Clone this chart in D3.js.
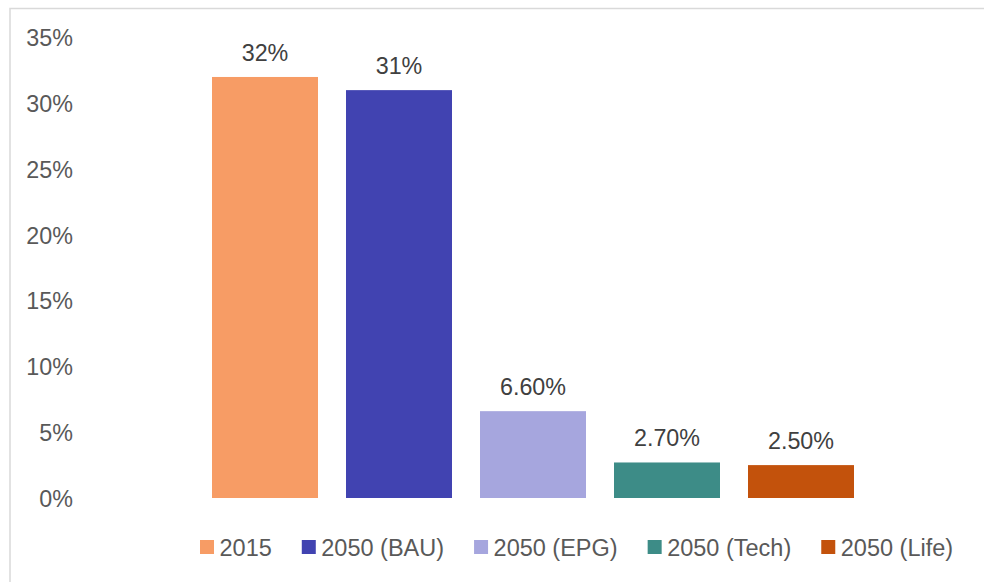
<!DOCTYPE html>
<html>
<head>
<meta charset="utf-8">
<script src="https://cdn.jsdelivr.net/npm/d3@7"></script>
<style>
  body { margin: 0; background: #fff; }
  text { font-family: "Liberation Sans", Arial, sans-serif; }
</style>
</head>
<body>
<div id="chart"></div>
<script>
const categories = ['2015', '2050 (BAU)', '2050 (EPG)', '2050 (Tech)', '2050 (Life)'];
const values = [32, 31, 6.6, 2.7, 2.5];
const valueLabels = ['32%', '31%', '6.60%', '2.70%', '2.50%'];
const yTicks = [0, 5, 10, 15, 20, 25, 30, 35];
const colors = ['#f79c65', '#4143b1', '#a6a6de', '#3d8c87', '#c3520c'];

const width = 984;
const height = 582;
const fontSize = 23.3;

const svg = d3.select('#chart')
  .append('svg')
  .attr('width', width)
  .attr('height', height);

// chart frame, runs off the right and bottom edges
svg.append('rect')
  .attr('x', 10)
  .attr('y', 8.5)
  .attr('width', 1000)
  .attr('height', 600)
  .attr('fill', 'none')
  .attr('stroke', '#d9d9d9')
  .attr('stroke-width', 1.5);

const xScale = d3.scaleBand()
  .domain(categories)
  .range([198, 868])
  .paddingInner(0.209)
  .paddingOuter(0.1045);

const yScale = d3.scaleLinear()
  .domain([0, 35])
  .range([498, 37.5]);

const yAxis = d3.axisLeft(yScale)
  .tickValues(yTicks)
  .tickFormat((d) => `${d}%`)
  .tickSize(0)
  .tickPadding(0);

const yG = svg.append('g')
  .attr('transform', 'translate(73, 0)')
  .call(yAxis);
yG.select('.domain').remove();
yG.selectAll('text')
  .attr('fill', '#595959')
  .attr('font-size', fontSize)
  .attr('dy', '0.35em');

svg.append('g')
  .selectAll('rect')
  .data(values)
  .enter()
    .append('rect')
    .attr('x', (d, i) => xScale(categories[i]))
    .attr('y', (d) => yScale(d))
    .attr('width', xScale.bandwidth())
    .attr('height', (d) => yScale(0) - yScale(d))
    .attr('fill', (d, i) => colors[i]);

svg.append('g')
  .selectAll('text')
  .data(values)
  .enter()
    .append('text')
    .attr('x', (d, i) => xScale(categories[i]) + xScale.bandwidth() / 2)
    .attr('y', (d) => yScale(d) - 16)
    .attr('text-anchor', 'middle')
    .attr('font-size', fontSize)
    .attr('fill', '#404040')
    .text((d, i) => valueLabels[i]);

// legend, laid out left to right from measured text widths
const legend = svg.append('g').attr('transform', 'translate(200, 0)');
let lx = 0;
categories.forEach((c, i) => {
  const item = legend.append('g').attr('transform', `translate(${lx}, 0)`);
  item.append('rect')
    .attr('x', 0)
    .attr('y', 540)
    .attr('width', 14)
    .attr('height', 14)
    .attr('fill', colors[i]);
  const t = item.append('text')
    .attr('x', 19.5)
    .attr('y', 555.5)
    .attr('font-size', 23.5)
    .attr('fill', '#595959')
    .text(c);
  lx += 19.5 + t.node().getComputedTextLength() + 30;
});
</script>
</body>
</html>
